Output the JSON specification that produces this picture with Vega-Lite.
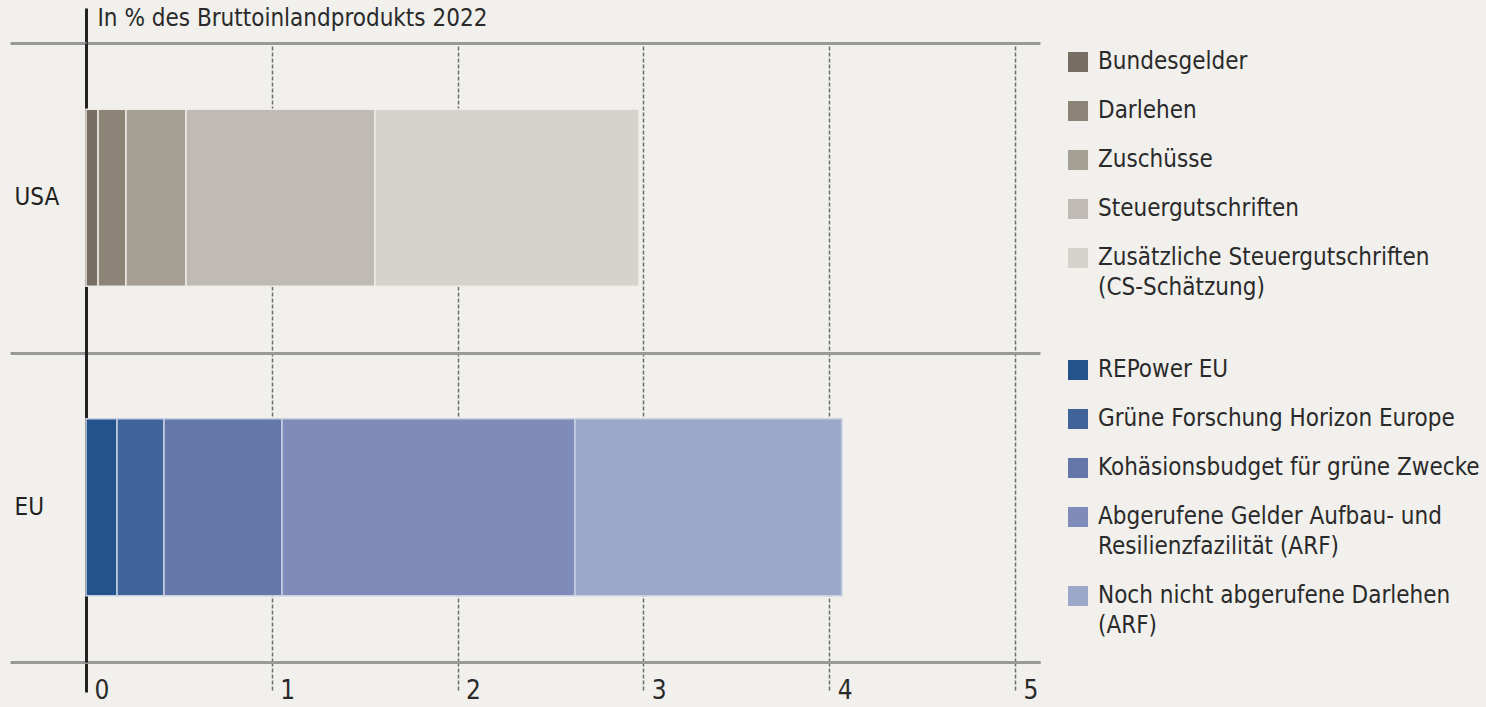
{
  "$schema": "https://vega.github.io/schema/vega-lite/v6.json",
  "width": 954,
  "height": 619,
  "padding": {"left": 8, "top": 6, "right": 12, "bottom": 8},
  "background": "#f1f0ec",
  "config": {
    "view": {"stroke": null},
    "font": "DejaVu Sans Condensed",
    "style": {"guide-label": {"lineHeight": 30}},
    "legend": {
      "symbolType": "square",
      "symbolSize": 400,
      "symbolStrokeWidth": 0,
      "labelFontSize": 24,
      "labelColor": "#2a2a2a",
      "labelLimit": 600,
      "labelOffset": 8,
      "rowPadding": 25,
      "padding": 0,
      "orient": "none"
    }
  },
  "data": {
    "values": [
      {"Region": "USA", "Kategorie": "Bundesgelder", "Rang": 1, "Wert": 0.065},
      {"Region": "USA", "Kategorie": "Darlehen", "Rang": 2, "Wert": 0.15},
      {"Region": "USA", "Kategorie": "Zuschüsse", "Rang": 3, "Wert": 0.323},
      {"Region": "USA", "Kategorie": "Steuergutschriften", "Rang": 4, "Wert": 1.017},
      {"Region": "USA", "Kategorie": "Zusätzliche Steuergutschriften (CS-Schätzung)", "Rang": 5, "Wert": 1.421},
      {"Region": "EU", "Kategorie": "REPower EU", "Rang": 1, "Wert": 0.167},
      {"Region": "EU", "Kategorie": "Grüne Forschung Horizon Europe", "Rang": 2, "Wert": 0.253},
      {"Region": "EU", "Kategorie": "Kohäsionsbudget für grüne Zwecke", "Rang": 3, "Wert": 0.635},
      {"Region": "EU", "Kategorie": "Abgerufene Gelder Aufbau- und Resilienzfazilität (ARF)", "Rang": 4, "Wert": 1.577},
      {"Region": "EU", "Kategorie": "Noch nicht abgerufene Darlehen (ARF)", "Rang": 5, "Wert": 1.437}
    ]
  },
  "encoding": {
    "y": {
      "field": "Region",
      "type": "nominal",
      "sort": ["USA", "EU"],
      "scale": {"paddingInner": 0, "paddingOuter": 0},
      "axis": {
        "title": null,
        "tickBand": "extent",
        "ticks": true,
        "tickSize": 76,
        "tickColor": "#999999",
        "tickWidth": 3,
        "grid": true,
        "gridColor": "#999999",
        "gridWidth": 3,
        "domain": true,
        "domainColor": "#222222",
        "domainWidth": 3,
        "labelAlign": "left",
        "labelPadding": -4,
        "labelDy": 3,
        "labelFontSize": 24,
        "labelColor": "#222222",
        "labelFontWeight": "normal"
      }
    },
    "order": {"field": "Rang", "type": "quantitative"}
  },
  "layer": [
    {
      "transform": [{"filter": "datum.Region === 'USA'"}],
      "mark": {"type": "bar", "height": {"band": 0.572}, "stroke": "#eeece6", "strokeWidth": 1.5},
      "encoding": {
        "x": {
          "field": "Wert",
          "type": "quantitative",
          "stack": "zero",
          "scale": {"domain": [0, 5.135], "nice": false, "zero": true},
          "axis": {
            "orient": "bottom",
            "title": null,
            "values": [0, 1, 2, 3, 4, 5],
            "domain": true,
            "domainColor": "#999999",
            "domainWidth": 3,
            "grid": true,
            "gridColor": {"condition": {"test": "datum.value === 0", "value": "#222222"}, "value": "#6e6e6e"},
            "gridWidth": {"condition": {"test": "datum.value === 0", "value": 3}, "value": 1.5},
            "gridDash": {"condition": {"test": "datum.value === 0", "value": []}, "value": [4, 2]},
            "ticks": true,
            "tickSize": 30,
            "tickColor": {"condition": {"test": "datum.value === 0", "value": "#222222"}, "value": "#6e6e6e"},
            "tickWidth": {"condition": {"test": "datum.value === 0", "value": 3}, "value": 1.5},
            "tickDash": {"condition": {"test": "datum.value === 0", "value": []}, "value": [4, 2]},
            "labelAlign": "left",
            "labelBaseline": "middle",
            "labelOffset": 8,
            "labelPadding": -2,
            "labelFontSize": 26,
            "labelColor": "#2a2a2a",
            "labelFlush": false
          }
        },
        "color": {
          "field": "Kategorie",
          "type": "nominal",
          "sort": ["Bundesgelder", "Darlehen", "Zuschüsse", "Steuergutschriften", "Zusätzliche Steuergutschriften (CS-Schätzung)"],
          "scale": {
            "domain": ["Bundesgelder", "Darlehen", "Zuschüsse", "Steuergutschriften", "Zusätzliche Steuergutschriften (CS-Schätzung)"],
            "range": ["#766e62", "#8b8477", "#a59e93", "#bfbab4", "#d6d3cc"]
          },
          "legend": {
            "title": null,
            "legendX": 980,
            "legendY": 7,
            "labelExpr": "datum.label == 'Zusätzliche Steuergutschriften (CS-Schätzung)' ? ['Zusätzliche Steuergutschriften', '(CS-Schätzung)'] : datum.label"
          }
        }
      }
    },
    {
      "transform": [{"filter": "datum.Region === 'EU'"}],
      "mark": {"type": "bar", "height": {"band": 0.572}, "stroke": "#c9d0e2", "strokeWidth": 1.5},
      "encoding": {
        "x": {
          "field": "Wert",
          "type": "quantitative",
          "stack": "zero",
          "scale": {"domain": [0, 5.135], "nice": false, "zero": true},
          "axis": {
            "orient": "top",
            "values": [0],
            "domain": false,
            "grid": false,
            "labels": false,
            "ticks": true,
            "tickSize": 35,
            "tickColor": "#222222",
            "tickWidth": 3,
            "title": "In % des Bruttoinlandprodukts 2022",
            "titleFontSize": 24,
            "titleFontWeight": "normal",
            "titleColor": "#2a2a2a",
            "titleAnchor": "start",
            "titleAlign": "left",
            "titleBaseline": "middle",
            "titleX": 11,
            "titleY": -25
          }
        },
        "fill": {
          "field": "Kategorie",
          "type": "nominal",
          "sort": ["REPower EU", "Grüne Forschung Horizon Europe", "Kohäsionsbudget für grüne Zwecke", "Abgerufene Gelder Aufbau- und Resilienzfazilität (ARF)", "Noch nicht abgerufene Darlehen (ARF)"],
          "scale": {
            "domain": ["REPower EU", "Grüne Forschung Horizon Europe", "Kohäsionsbudget für grüne Zwecke", "Abgerufene Gelder Aufbau- und Resilienzfazilität (ARF)", "Noch nicht abgerufene Darlehen (ARF)"],
            "range": ["#22548b", "#40649a", "#6378a9", "#7f8cb9", "#9ca8ca"]
          },
          "legend": {
            "title": null,
            "legendX": 980,
            "legendY": 315,
            "labelExpr": "datum.label == 'Abgerufene Gelder Aufbau- und Resilienzfazilität (ARF)' ? ['Abgerufene Gelder Aufbau- und', 'Resilienzfazilität (ARF)'] : datum.label == 'Noch nicht abgerufene Darlehen (ARF)' ? ['Noch nicht abgerufene Darlehen', '(ARF)'] : datum.label"
          }
        }
      }
    }
  ],
  "resolve": {"axis": {"x": "independent"}}
}
